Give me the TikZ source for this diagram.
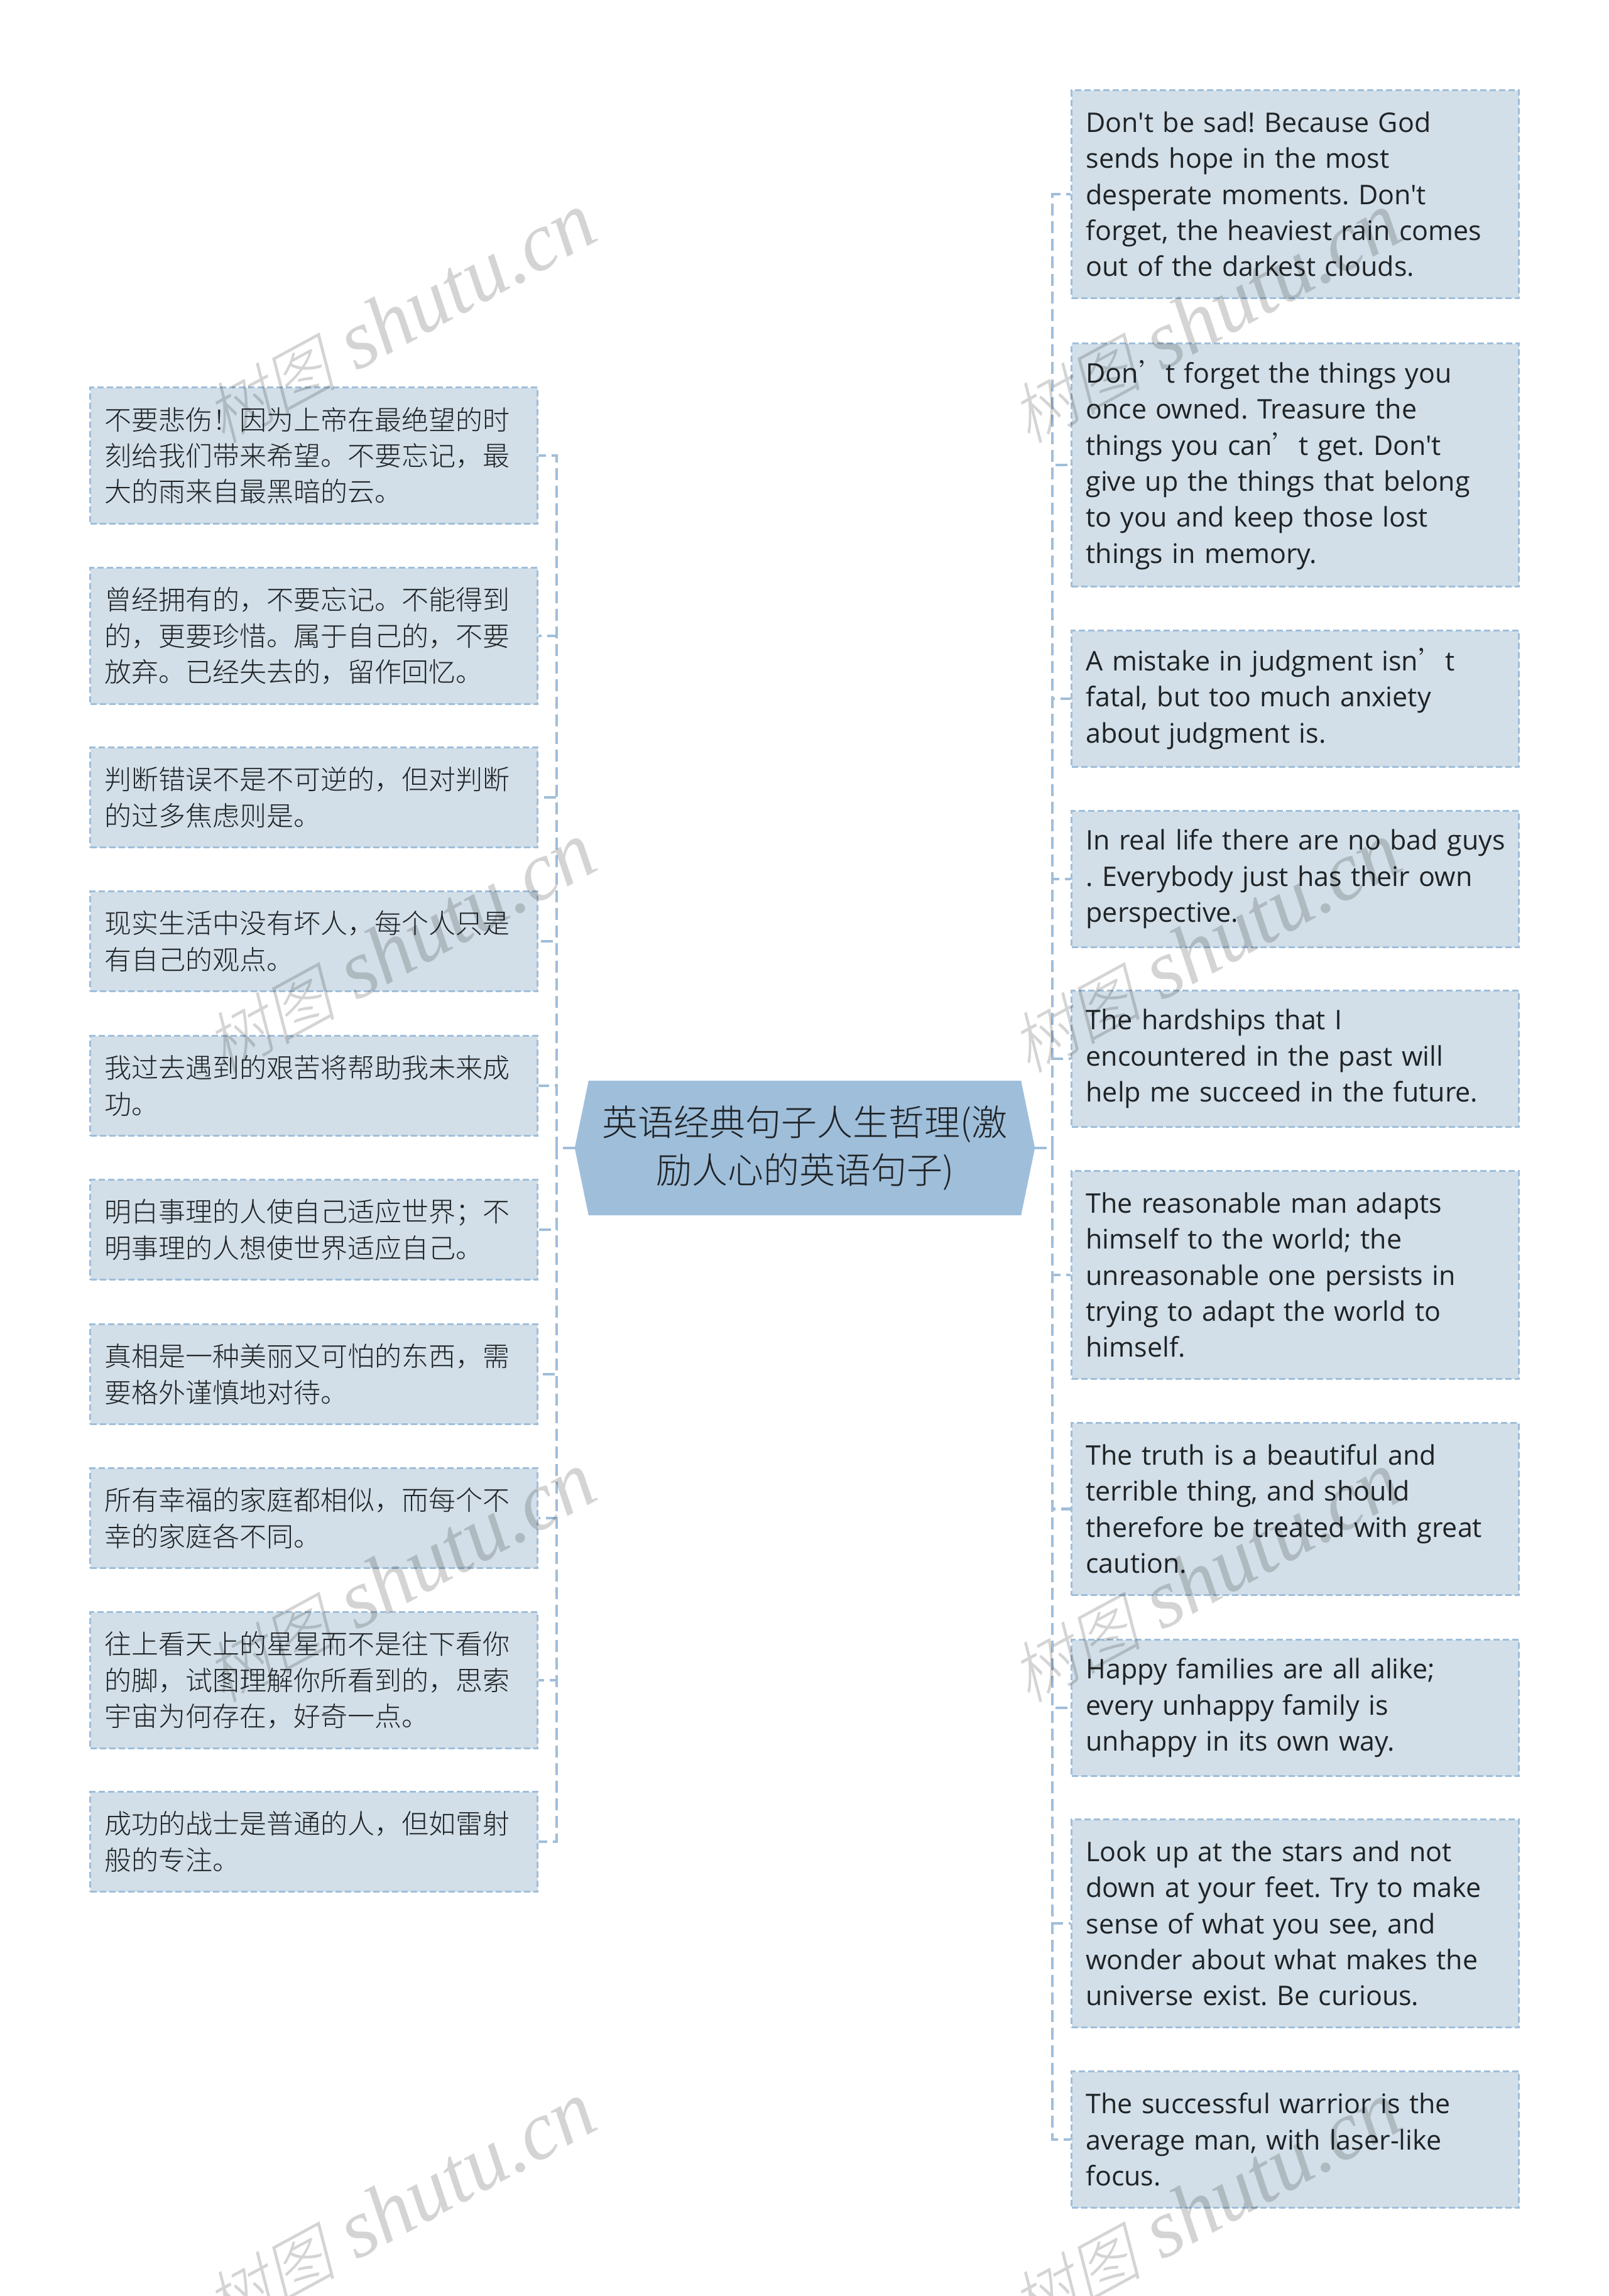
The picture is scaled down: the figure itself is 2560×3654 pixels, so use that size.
\documentclass[tikz,border=0pt]{standalone}
\usepackage{fontspec}
\usetikzlibrary{backgrounds}
\setmainfont{Open Sans}[Ligatures=TeXOff]
\newfontfamily\cjkfont{Noto Sans CJK SC}[UprightFont=* Light]
\newfontfamily\markfont{Liberation Serif}[ItalicFont=* Italic]
\newfontfamily\markcjk{Noto Sans CJK SC}[UprightFont=* Light,AutoFakeSlant=0.25]
\definecolor{rootfill}{HTML}{9FBEDA}
\definecolor{leaffill}{HTML}{D2DFE8}
\definecolor{inkdark}{HTML}{1F2326}
\newcommand*{\qt}{{\cjkfont ’}}
\newcommand*{\markname}{{\fontsize{105}{105}\selectfont\markcjk 树图} shutu.cn}
\frenchspacing
\tikzset{
  leafbox/.style={draw=rootfill,fill=leaffill,line width=3pt,dash pattern=on 10pt off 5pt,
    anchor=north west,minimum width=712pt,text width=666pt,inner sep=0pt,align=left,text=inkdark,
    font=\fontsize{43}{57.4}\selectfont},
  cjkbox/.style={leafbox,font=\fontsize{43}{57.4}\selectfont\cjkfont},
  rootbox/.style={minimum width=732pt,minimum height=214pt,inner sep=0pt,align=center,text=inkdark,
    font=\fontsize{57}{76}\selectfont\cjkfont},
  linkline/.style={draw=rootfill,line width=4.5pt,dash pattern=on 19pt off 9pt},
  wmark/.style={rotate=28.5,text=black,text opacity=0.17,font=\fontsize{132}{132}\selectfont\markfont\itshape}
}
\begin{document}
\begin{tikzpicture}[x=1pt,y=-1pt]
\useasboundingbox (0,0) rectangle (2560,3654);
\node[rootbox] (root) at (1281,1827) {英语经典句子人生哲理(激\\励人心的英语句子)};
\begin{scope}[on background layer]
\fill[rootfill] ([xshift=22pt]root.north west) -- ([xshift=-22pt]root.north east) -- (root.east)
  -- ([xshift=-22pt]root.south east) -- ([xshift=22pt]root.south west) -- (root.west) -- cycle;
\end{scope}
\coordinate (ltrunk) at (886,1827);
\coordinate (rtrunk) at (1675,1827);
\node[cjkbox,minimum height=217pt] (l1) at (142,615) {不要悲伤！因为上帝在最绝望的时\\刻给我们带来希望。不要忘记，最\\大的雨来自最黑暗的云。};
\node[cjkbox,minimum height=217pt] (l2) at (142,902) {曾经拥有的，不要忘记。不能得到\\的，更要珍惜。属于自己的，不要\\放弃。已经失去的，留作回忆。};
\node[cjkbox,minimum height=159pt] (l3) at (142,1188) {判断错误不是不可逆的，但对判断\\的过多焦虑则是。};
\node[cjkbox,minimum height=159pt] (l4) at (142,1417) {现实生活中没有坏人，每个人只是\\有自己的观点。};
\node[cjkbox,minimum height=159pt] (l5) at (142,1647) {我过去遇到的艰苦将帮助我未来成\\功。};
\node[cjkbox,minimum height=159pt] (l6) at (142,1876) {明白事理的人使自己适应世界；不\\明事理的人想使世界适应自己。};
\node[cjkbox,minimum height=159pt] (l7) at (142,2106) {真相是一种美丽又可怕的东西，需\\要格外谨慎地对待。};
\node[cjkbox,minimum height=159pt] (l8) at (142,2335) {所有幸福的家庭都相似，而每个不\\幸的家庭各不同。};
\node[cjkbox,minimum height=217pt] (l9) at (142,2564) {往上看天上的星星而不是往下看你\\的脚，试图理解你所看到的，思索\\宇宙为何存在，好奇一点。};
\node[cjkbox,minimum height=159pt] (l10) at (142,2850) {成功的战士是普通的人，但如雷射\\般的专注。};
\node[leafbox,minimum height=331pt] (r1) at (1704,142) {Don't be sad! Because God\\sends hope in the most\\desperate moments. Don't\\forget, the heaviest rain comes\\out of the darkest clouds.};
\node[leafbox,minimum height=387pt] (r2) at (1704,545) {Don\qt t forget the things you\\once owned. Treasure the\\things you can\qt t get. Don't\\give up the things that belong\\to you and keep those lost\\things in memory.};
\node[leafbox,minimum height=217pt] (r3) at (1704,1002) {A mistake in judgment isn\qt t\\fatal, but too much anxiety\\about judgment is.};
\node[leafbox,minimum height=217pt] (r4) at (1704,1289) {\rlap{In real life there are no bad guys}\\. Everybody just has their own\\perspective.};
\node[leafbox,minimum height=217pt] (r5) at (1704,1575) {The hardships that I\\encountered in the past will\\help me succeed in the future.};
\node[leafbox,minimum height=331pt] (r6) at (1704,1862) {The reasonable man adapts\\himself to the world; the\\unreasonable one persists in\\trying to adapt the world to\\himself.};
\node[leafbox,minimum height=274pt] (r7) at (1704,2263) {The truth is a beautiful and\\terrible thing, and should\\therefore be treated with great\\caution.};
\node[leafbox,minimum height=217pt] (r8) at (1704,2608) {Happy families are all alike;\\every unhappy family is\\unhappy in its own way.};
\node[leafbox,minimum height=331pt] (r9) at (1704,2894) {Look up at the stars and not\\down at your feet. Try to make\\sense of what you see, and\\wonder about what makes the\\universe exist. Be curious.};
\node[leafbox,minimum height=217pt] (r10) at (1704,3295) {The successful warrior is the\\average man, with laser-like\\focus.};
\foreach \n in {1,...,10} {
  \draw[linkline] (root.west) -- (ltrunk) |- (l\n.east);
  \draw[linkline] (root.east) -- (rtrunk) |- (r\n.east -| r\n.west);
}
\node[wmark] (m1) at (636,507) {\markname};
\node[wmark] (m2) at (636,1509) {\markname};
\node[wmark] (m3) at (636,2511) {\markname};
\node[wmark] (m4) at (636,3513) {\markname};
\node[wmark] (m5) at (1918,507) {\markname};
\node[wmark] (m6) at (1918,1509) {\markname};
\node[wmark] (m7) at (1918,2511) {\markname};
\node[wmark] (m8) at (1918,3513) {\markname};
\end{tikzpicture}
\end{document}
